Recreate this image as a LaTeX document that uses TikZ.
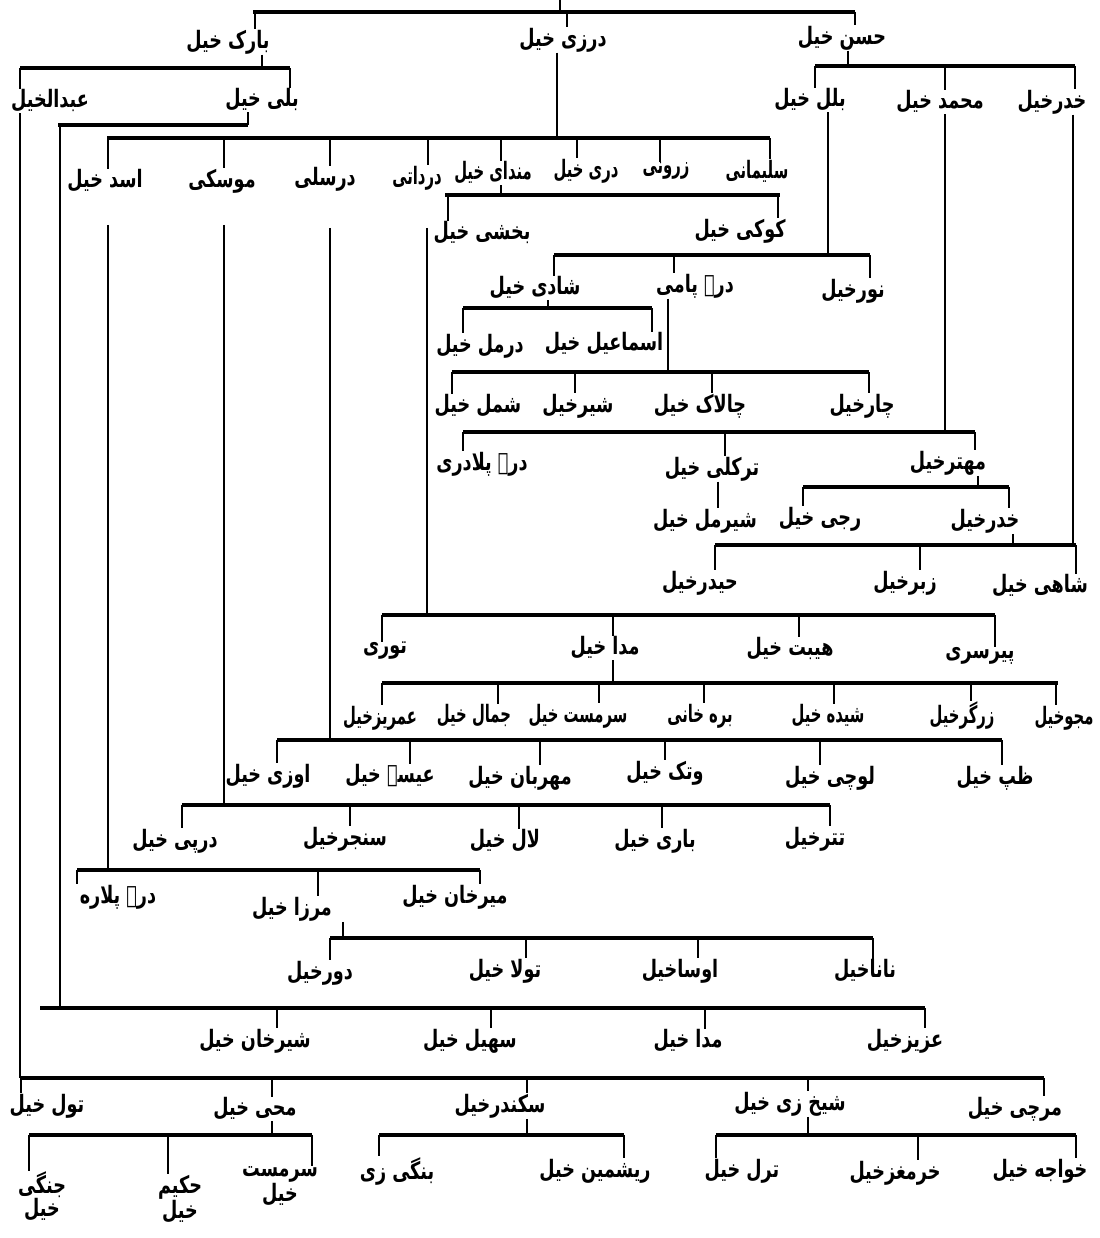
\documentclass[tikz,border=0pt]{standalone}
\usepackage{fontspec}
\usepackage{graphicx}
\newfontfamily\arabicfont[Script=Arabic]{DejaVu Sans}
\TeXXeTstate=1
\newcommand{\ur}[1]{\scalebox{0.88}[1.2]{\beginR #1\endR}}
\newcommand{\urn}[1]{\scalebox{0.74}[1.2]{\beginR #1\endR}}
\newcommand{\drp}[3]{\draw[drop] (#1,#2) -- (#1,#2 |- #3.north);}
\newcommand{\stm}[4][drop]{\draw[#1] (#2,#3 |- #4.south) -- (#2,#3);}
\begin{document}
\begin{tikzpicture}[x=1pt,y=-1pt,
  lab/.style={font=\arabicfont\bfseries\fontsize{20}{22}\selectfont, inner sep=0.5pt, align=center},
  bar/.style={line width=3.6pt},
  drop/.style={line width=1.4pt},
  stem/.style={line width=2.2pt}]
\useasboundingbox[fill=white] (0,0) rectangle (1099,1238);

% ---------------- labels ----------------
\node[lab] (barak) at (228,42) {\ur{بارک خیل}};
\node[lab] (darzi) at (563,40) {\ur{درزی خیل}};
\node[lab] (hasan) at (842,38) {\ur{حسن خیل}};

\node[lab] (abdul) at (50,101) {\ur{عبدالخیل}};
\node[lab] (bali) at (262,100) {\ur{بلی خیل}};
\node[lab] (balal) at (810,100) {\ur{بلل خیل}};
\node[lab] (muhammad) at (940,102) {\ur{محمد خیل}};
\node[lab] (khidr) at (1052,102) {\ur{خدرخیل}};

\node[lab] (asad) at (105,181) {\ur{اسد خیل}};
\node[lab] (musaki) at (222,181) {\ur{موسکی}};
\node[lab] (darsali) at (325,179) {\ur{درسلی}};
\node[lab] (dardati) at (417,178) {\urn{درداتی}};
\node[lab] (mandai) at (493,173) {\urn{مندای خیل}};
\node[lab] (dari) at (586,171) {\urn{دری خیل}};
\node[lab] (zarwani) at (666,171) {\urn{زرونی}};
\node[lab] (salimani) at (757,171) {\urn{سلیمانی}};

\node[lab] (bakhshi) at (482,233) {\ur{بخشی خیل}};
\node[lab] (koki) at (740,231) {\ur{کوکی خیل}};

\node[lab] (shadi) at (535,288) {\ur{شادی خیل}};
\node[lab] (darepami) at (695,286) {\ur{درے پامی}};
\node[lab] (nur) at (853,291) {\ur{نورخیل}};

\node[lab] (darmal) at (480,346) {\ur{درمل خیل}};
\node[lab] (ismail) at (604,344) {\ur{اسماعیل خیل}};

\node[lab] (shamal) at (478,406) {\ur{شمل خیل}};
\node[lab] (sher) at (578,406) {\ur{شیرخیل}};
\node[lab] (chalak) at (700,406) {\ur{چالاک خیل}};
\node[lab] (char) at (862,406) {\ur{چارخیل}};

\node[lab] (darepaladari) at (482,464) {\ur{درے پلادری}};
\node[lab] (tarkali) at (712,469) {\ur{ترکلی خیل}};
\node[lab] (mehtar) at (948,463) {\ur{مهترخیل}};

\node[lab] (shermal) at (705,521) {\ur{شیرمل خیل}};
\node[lab] (raji) at (820,519) {\ur{رجی خیل}};
\node[lab] (khidrb) at (985,521) {\ur{خدرخیل}};

\node[lab] (haidar) at (700,583) {\ur{حیدرخیل}};
\node[lab] (zabar) at (905,583) {\ur{زبرخیل}};
\node[lab] (shahi) at (1040,586) {\ur{شاهی خیل}};

\node[lab] (tori) at (385,651) {\ur{توری}};
\node[lab] (mada) at (605,648) {\ur{مدا خیل}};
\node[lab] (haibat) at (790,649) {\ur{هیبت خیل}};
\node[lab] (pirsari) at (980,656) {\ur{پیرسری}};

\node[lab] (umarez) at (380,718) {\urn{عمریزخیل}};
\node[lab] (jamal) at (474,716) {\urn{جمال خیل}};
\node[lab] (sarmast) at (578,716) {\urn{سرمست خیل}};
\node[lab] (barakhani) at (700,716) {\urn{بره خانی}};
\node[lab] (shaida) at (828,716) {\urn{شیده خیل}};
\node[lab] (zargar) at (962,716) {\urn{زرگرخیل}};
\node[lab] (majo) at (1064,718) {\urn{مجوخیل}};

\node[lab] (uzi) at (268,776) {\ur{اوزی خیل}};
\node[lab] (isa) at (390,776) {\ur{عیسے خیل}};
\node[lab] (mehrban) at (520,778) {\ur{مهربان خیل}};
\node[lab] (watak) at (665,773) {\ur{وتک خیل}};
\node[lab] (lochi) at (830,778) {\ur{لوچی خیل}};
\node[lab] (zap) at (995,778) {\ur{ظپ خیل}};

\node[lab] (darpi) at (175,841) {\ur{درپی خیل}};
\node[lab] (sanjar) at (345,839) {\ur{سنجرخیل}};
\node[lab] (lal) at (505,841) {\ur{لال خیل}};
\node[lab] (bari) at (655,841) {\ur{باری خیل}};
\node[lab] (tatar) at (815,839) {\ur{تترخیل}};

\node[lab] (darepalara) at (118,897) {\ur{درے پلاره}};
\node[lab] (mirza) at (292,909) {\ur{مرزا خیل}};
\node[lab] (mirkhan) at (455,897) {\ur{میرخان خیل}};

\node[lab] (dawar) at (320,973) {\ur{دورخیل}};
\node[lab] (tola) at (505,971) {\ur{تولا خیل}};
\node[lab] (osa) at (680,971) {\ur{اوساخیل}};
\node[lab] (nana) at (865,971) {\ur{ناناخیل}};

\node[lab] (sherkhan) at (255,1041) {\ur{شیرخان خیل}};
\node[lab] (sohail) at (470,1041) {\ur{سهیل خیل}};
\node[lab] (madab) at (688,1041) {\ur{مدا خیل}};
\node[lab] (aziz) at (905,1041) {\ur{عزیزخیل}};

\node[lab] (tul) at (47,1106) {\ur{تول خیل}};
\node[lab] (mahi) at (255,1109) {\ur{محی خیل}};
\node[lab] (sikandar) at (500,1106) {\ur{سکندرخیل}};
\node[lab] (sheikhzai) at (790,1104) {\ur{شیخ زی خیل}};
\node[lab] (marchi) at (1015,1109) {\ur{مرچی خیل}};

\node[lab] (jangi) at (42,1196) {\ur{جنگی}\\\ur{خیل}};
\node[lab] (hakim) at (180,1199) {\ur{حکیم}\\\ur{خیل}};
\node[lab] (sarmastb) at (280,1186) {\ur{سرمست}\\\ur{خیل}};
\node[lab] (bangi) at (397,1171) {\ur{بنگی زی}};
\node[lab] (reshmin) at (595,1171) {\ur{ریشمین خیل}};
\node[lab] (taral) at (742,1171) {\ur{ترل خیل}};
\node[lab] (khurmaghz) at (895,1173) {\ur{خرمغزخیل}};
\node[lab] (khwaja) at (1040,1171) {\ur{خواجه خیل}};

% ---------------- connectors ----------------
% level 0
\draw[stem] (560,0) -- (560,12);
\draw[bar] (253,12) -- (855,12);
\drp{255}{12}{barak} \drp{855}{12}{hasan} \drp{567}{12}{darzi}
% barak
\stm{262}{68}{barak}
\draw[bar] (20,68) -- (290,68);
\drp{20}{68}{abdul} \drp{290}{68}{bali}
% hasan
\stm{848}{66}{hasan}
\draw[bar] (815,66) -- (1075,66);
\drp{815}{66}{balal} \drp{945}{66}{muhammad} \drp{1075}{66}{khidr}
% bali bracket and long line
\stm[stem]{248}{125}{bali}
\draw[bar] (58,125) -- (248,125);
\draw[stem] (60,125) -- (60,1008);
% abdul long line
\stm[stem]{20}{1078}{abdul}
% darzi
\stm[stem]{557}{138}{darzi}
\draw[bar] (107,138) -- (770,138);
\drp{108}{138}{asad} \drp{224}{138}{musaki} \drp{330}{138}{darsali}
\drp{428}{138}{dardati} \drp{501}{138}{mandai} \drp{577}{138}{dari}
\drp{660}{138}{zarwani} \drp{770}{138}{salimani}
% mandai
\stm{501}{195}{mandai}
\draw[bar] (445,195) -- (780,195);
\drp{448}{195}{bakhshi} \drp{778}{195}{koki}
% long verticals
\draw[stem] (108,225) -- (108,870);
\draw[stem] (224,225) -- (224,805);
\draw[stem] (330,228) -- (330,740);
\draw[stem] (427,228) -- (427,615);
% balal
\stm[stem]{828}{255}{balal}
\draw[bar] (554,255) -- (870,255);
\drp{554}{255}{shadi} \drp{674}{255}{darepami} \drp{870}{255}{nur}
% shadi
\stm{548}{308}{shadi}
\draw[bar] (463,308) -- (652,308);
\drp{463}{308}{darmal} \drp{652}{308}{ismail}
% darepami
\stm[stem]{668}{372}{darepami}
\draw[bar] (452,372) -- (869,372);
\drp{452}{372}{shamal} \drp{575}{372}{sher} \drp{712}{372}{chalak} \drp{869}{372}{char}
% muhammad
\stm[stem]{945}{432}{muhammad}
\draw[bar] (463,432) -- (975,432);
\drp{463}{432}{darepaladari} \drp{725}{432}{tarkali} \drp{975}{432}{mehtar}
\draw[drop] (718,0 |- tarkali.south) -- (718,0 |- shermal.north);
% mehtar
\stm{978}{487}{mehtar}
\draw[bar] (803,487) -- (1009,487);
\drp{803}{487}{raji} \drp{1009}{487}{khidrb}
\stm{1013}{545}{khidrb}
\stm[stem]{1073}{545}{khidr}
\draw[bar] (715,545) -- (1076,545);
\drp{715}{545}{haidar} \drp{920}{545}{zabar} \drp{1076}{545}{shahi}
% dardati
\draw[bar] (382,615) -- (995,615);
\drp{382}{615}{tori} \drp{613}{615}{mada} \drp{799}{615}{haibat} \drp{995}{615}{pirsari}
% mada
\stm{613}{683}{mada}
\draw[bar] (382,683) -- (1058,683);
\drp{382}{683}{umarez} \drp{498}{683}{jamal} \drp{599}{683}{sarmast}
\drp{704}{683}{barakhani} \drp{834}{683}{shaida} \drp{971}{683}{zargar} \drp{1056}{683}{majo}
% darsali
\draw[bar] (277,740) -- (1002,740);
\drp{277}{740}{uzi} \drp{410}{740}{isa} \drp{540}{740}{mehrban}
\drp{665}{740}{watak} \drp{820}{740}{lochi} \drp{1002}{740}{zap}
% musaki
\draw[bar] (182,805) -- (830,805);
\drp{182}{805}{darpi} \drp{350}{805}{sanjar} \drp{519}{805}{lal}
\drp{662}{805}{bari} \drp{830}{805}{tatar}
% asad
\draw[bar] (77,870) -- (480,870);
\drp{77}{870}{darepalara} \drp{318}{870}{mirza} \drp{480}{870}{mirkhan}
% mirza
\stm{343}{938}{mirza}
\draw[bar] (330,938) -- (873,938);
\drp{330}{938}{dawar} \drp{526}{938}{tola} \drp{698}{938}{osa} \drp{873}{938}{nana}
% bali bar
\draw[bar] (40,1008) -- (925,1008);
\drp{277}{1008}{sherkhan} \drp{491}{1008}{sohail} \drp{705}{1008}{madab} \drp{925}{1008}{aziz}
% abdul bar
\draw[bar] (20,1078) -- (1044,1078);
\drp{21}{1078}{tul} \drp{272}{1078}{mahi} \drp{527}{1078}{sikandar}
\drp{808}{1078}{sheikhzai} \drp{1044}{1078}{marchi}
% bottom groups
\stm{272}{1135}{mahi}
\draw[bar] (29,1135) -- (312,1135);
\drp{29}{1135}{jangi} \drp{168}{1135}{hakim} \drp{312}{1135}{sarmastb}
\stm{527}{1135}{sikandar}
\draw[bar] (379,1135) -- (624,1135);
\drp{379}{1135}{bangi} \drp{624}{1135}{reshmin}
\stm{808}{1135}{sheikhzai}
\draw[bar] (716,1135) -- (1076,1135);
\drp{716}{1135}{taral} \drp{918}{1135}{khurmaghz} \drp{1076}{1135}{khwaja}
\end{tikzpicture}
\end{document}
